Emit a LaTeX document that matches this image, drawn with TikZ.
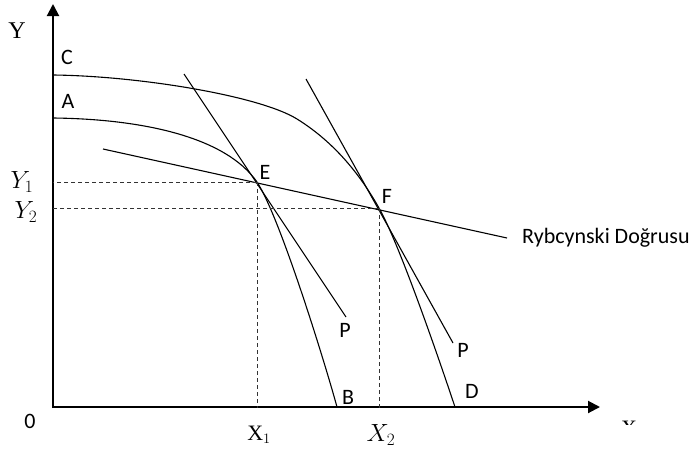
\documentclass[tikz,border=0pt]{standalone}
\usepackage{fontspec}
\setmainfont{Carlito}
\newfontfamily\timesfont{Liberation Serif}
\usetikzlibrary{arrows.meta}

\begin{document}
\begin{tikzpicture}[x=1pt, y=-1pt,
        lbl/.style={font=\fontsize{22}{26}\selectfont, inner sep=0pt},
        axlbl/.style={font=\fontsize{24}{28}\selectfont, inner sep=0pt},
        curve/.style={line width=1.1pt},
        guide/.style={dash pattern=on 4pt off 3pt, line width=0.8pt, black!80},
        axis/.style={line width=2pt, -{Triangle[length=12pt, width=12pt]}}]
        \useasboundingbox (0,0) rectangle (696,450);

        \coordinate (O) at (53,408);
        \coordinate (ytop) at (53,4);
        \coordinate (xend) at (600,407);
        \coordinate (C0) at (53,75);
        \coordinate (A0) at (53,118);
        \coordinate (E) at (257,182);
        \coordinate (F) at (379,208);
        \coordinate (B0) at (337,407);
        \coordinate (D0) at (455,407);

        \draw[axis] (O) -- (ytop);
        \draw[axis] (52,407) -- (xend);

        % production possibility curves
        \draw[curve] (C0) .. controls (140,76) and (260,96) .. (297,119)
            .. controls (330,139.5) and (357,169) .. (F)
            .. controls (400,245) and (441,365) .. (D0);
        \draw[curve] (A0) .. controls (140,119) and (225,136) .. (E)
            .. controls (280,217) and (325,363) .. (B0);

        % price lines and Rybczynski line
        \coordinate (pe1) at (184,74);
        \coordinate (pe2) at (346,317);
        \coordinate (pf1) at (306,79);
        \coordinate (pf2) at (453,343);
        \coordinate (r1) at (103,149);
        \coordinate (r2) at (507,238);
        \draw[curve] (pe1) -- (pe2);
        \draw[curve] (pf1) -- (pf2);
        \draw[curve] (r1) -- (r2);

        \draw[guide] (E) -- (E -| O);
        \draw[guide] (E) -- (E |- O);
        \draw[guide] (F) -- (F -| O);
        \draw[guide] (F) -- (F |- O);

        \node[axlbl, font=\timesfont\fontsize{24}{26}\selectfont] (ylbl) at (17,31) {Y};
        \node[axlbl] (y1) at (22,182) {$Y_1$};
        \node[axlbl] (y2) at (26,212) {$Y_2$};
        \node[axlbl, font=\timesfont\fontsize{22}{24}\selectfont] (x1) at (259,435) {X$_1$};
        \node[axlbl] (x2) at (381,435) {$X_2$};
        % only the top of the x axis label shows
        \begin{scope}
            \clip (610,415) rectangle (650,424);
            \node[axlbl, font=\timesfont\fontsize{22}{24}\selectfont, anchor=north] (xlbl) at (629,421) {X};
        \end{scope}

        \node[lbl] (lc) at (67,57) {C};
        \node[lbl] (la) at (68,101) {A};
        \node[lbl] (le) at (265,172) {E};
        \node[lbl] (lf) at (387,196) {F};
        \node[lbl] (lp1) at (345,330) {P};
        \node[lbl] (lp2) at (463,350) {P};
        \node[lbl] (lb) at (348,397) {B};
        \node[lbl] (ld) at (472,391) {D};
        \node[lbl] (lo) at (30,421) {0};
        \node[lbl, anchor=west] (ryb) at (522,238) {Rybcynski Doğrusu};
\end{tikzpicture}
\end{document}
